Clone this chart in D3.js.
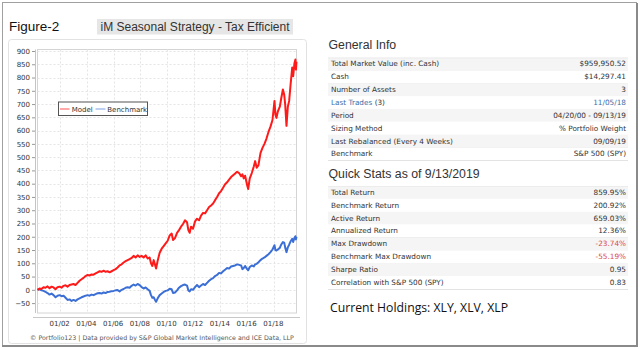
<!DOCTYPE html>
<html>
<head>
<meta charset="utf-8">
<script src="https://cdn.jsdelivr.net/npm/d3@7"></script>
<style>
  html, body { margin: 0; padding: 0; background: #fff; }
  svg { display: block; }
</style>
</head>
<body>
<svg id="chart" width="640" height="349"></svg>
<script>
// ---------------- DATA ----------------
const years = [
  2000.30, 2000.45, 2000.60, 2000.75, 2000.90, 2001.05, 2001.20, 2001.35, 2001.50, 2001.65,
  2001.80, 2001.95, 2002.10, 2002.25, 2002.40, 2002.55, 2002.70, 2002.85, 2003.00, 2003.15,
  2003.30, 2003.45, 2003.60, 2003.75, 2003.90, 2004.05, 2004.20, 2004.35, 2004.50, 2004.65,
  2004.80, 2004.95, 2005.10, 2005.25, 2005.40, 2005.55, 2005.70, 2005.85, 2006.00, 2006.15,
  2006.30, 2006.45, 2006.60, 2006.75, 2006.90, 2007.05, 2007.20, 2007.35, 2007.50, 2007.65,
  2007.80, 2007.95, 2008.10, 2008.25, 2008.40, 2008.55, 2008.70, 2008.80, 2008.90, 2009.00,
  2009.10, 2009.18, 2009.30, 2009.45, 2009.60, 2009.75, 2009.90, 2010.05, 2010.20, 2010.35,
  2010.45, 2010.60, 2010.75, 2010.90, 2011.05, 2011.20, 2011.35, 2011.50, 2011.60, 2011.70,
  2011.80, 2011.95, 2012.10, 2012.25, 2012.40, 2012.55, 2012.70, 2012.85, 2013.00, 2013.15,
  2013.30, 2013.45, 2013.60, 2013.75, 2013.90, 2014.05, 2014.20, 2014.35, 2014.50, 2014.65,
  2014.80, 2014.95, 2015.10, 2015.25, 2015.40, 2015.55, 2015.65, 2015.75, 2015.85, 2016.00,
  2016.08, 2016.20, 2016.35, 2016.50, 2016.60, 2016.72, 2016.85, 2017.00, 2017.15, 2017.30,
  2017.45, 2017.60, 2017.75, 2017.90, 2018.05, 2018.12, 2018.20, 2018.30, 2018.45, 2018.55,
  2018.68, 2018.78, 2018.85, 2018.95, 2019.05, 2019.15, 2019.25, 2019.38, 2019.45, 2019.55,
  2019.62, 2019.66, 2019.70
];
const modelValues = [
  0, 5, 3, 10, 8, 13, 6, 12, 9, 2,
  10, 12, 8, 15, 17, 12, 18, 20, 22, 18,
  26, 34, 40, 45, 52, 56, 54, 58, 57, 62,
  66, 70, 68, 72, 68, 70, 66, 70, 74, 78,
  84, 92, 96, 103, 108, 112, 116, 120, 128, 122,
  130, 124, 128, 122, 130, 118, 122, 100, 90, 112,
  95, 80, 110, 140, 155, 165, 175, 185, 205, 212,
  188, 195, 215, 225, 238, 248, 262, 255, 225, 215,
  238, 230, 258, 268, 262, 280, 290, 288, 300, 312,
  318, 325, 338, 350, 364, 372, 385, 398, 405, 415,
  425, 432, 438, 445, 440, 428, 435, 420, 430, 395,
  380, 420, 440, 465, 485, 460, 470, 515, 535, 550,
  570, 595, 615, 640, 712, 660, 648, 672, 690, 720,
  755, 735, 700, 618, 690, 712, 770, 838, 805, 855,
  868, 830, 860
];
const benchmarkValues = [
  0, 2, -2, -4, -8, -12, -18, -14, -20, -28,
  -22, -20, -24, -22, -30, -38, -36, -42, -38, -42,
  -36, -32, -28, -25, -22, -20, -22, -18, -20, -16,
  -13, -12, -14, -10, -12, -8, -7, -5, -4, -2,
  -1, -6, 0, 3, 8, 10, 8, 15, 20, 16,
  22, 18, 10, 5, 9, 2, -4, -20, -30, -28,
  -38, -45, -32, -20, -14, -8, -4, -2, 4, 2,
  -12, -10, -2, 8, 14, 18, 20, 16, -2, -6,
  2, 0, 10, 18, 10, 16, 22, 18, 26, 34,
  40, 44, 52, 56, 64, 62, 70, 76, 82, 80,
  88, 90, 92, 96, 94, 92, 78, 82, 90, 78,
  74, 86, 92, 88, 96, 98, 104, 112, 118, 122,
  128, 134, 142, 152, 168, 150, 148, 152, 158, 170,
  180, 178, 160, 142, 160, 170, 182, 192, 180, 196,
  202, 190, 200
];
const yTicks = [-50, 0, 50, 100, 150, 200, 250, 300, 350, 400, 450, 500, 550, 600, 650, 700, 750, 800, 850, 900];
const xTickYears = [2002, 2004, 2006, 2008, 2010, 2012, 2014, 2016, 2018];
const seriesNames = ["Model", "Benchmark"];

const generalLabels = ["Total Market Value (inc. Cash)", "Cash", "Number of Assets", "Last Trades", "Period",
  "Sizing Method", "Last Rebalanced (Every 4 Weeks)", "Benchmark"];
const generalValues = ["$959,950.52", "$14,297.41", "3", "11/05/18", "04/20/00 - 09/13/19",
  "% Portfolio Weight", "09/09/19", "S&P 500 (SPY)"];
const statsLabels = ["Total Return", "Benchmark Return", "Active Return", "Annualized Return", "Max Drawdown",
  "Benchmark Max Drawdown", "Sharpe Ratio", "Correlation with S&P 500 (SPY)"];
const statsValues = ["859.95%", "200.92%", "659.03%", "12.36%", "-23.74%", "-55.19%", "0.95", "0.83"];

// ---------------- DRAW ----------------
const svg = d3.select("#chart");
const FONT = "'DejaVu Sans', Verdana, sans-serif";
const ARIAL = "'Liberation Sans', Arial, sans-serif";

function yearToDate(y) {
  const yr = Math.floor(y);
  const start = Date.UTC(yr, 0, 1), end = Date.UTC(yr + 1, 0, 1);
  return new Date(start + (y - yr) * (end - start));
}

// outer frame
svg.append("rect").attr("x", 2.5).attr("y", 2.5).attr("width", 634).attr("height", 343)
  .attr("fill", "#fff").attr("stroke", "#a0a0a0").attr("stroke-width", 1);
svg.append("line").attr("x1", 637).attr("x2", 637).attr("y1", 3).attr("y2", 346)
  .attr("stroke", "#8a8a8a").attr("stroke-width", 2);
svg.append("line").attr("x1", 2).attr("x2", 638).attr("y1", 346).attr("y2", 346)
  .attr("stroke", "#8a8a8a").attr("stroke-width", 2);

// chart panel
svg.append("rect").attr("x", 8.5).attr("y", 39.5).attr("width", 298).attr("height", 304).attr("rx", 3)
  .attr("fill", "#fff").attr("stroke", "#e2e2e2");

// titles
svg.append("text").attr("x", 9).attr("y", 31).attr("font-family", ARIAL).attr("font-size", 13.5)
  .attr("fill", "#111").text("Figure-2");
svg.append("rect").attr("x", 97).attr("y", 19).attr("width", 196).attr("height", 15.5).attr("fill", "#e6e6e6");
svg.append("text").attr("x", 195).attr("y", 31).attr("text-anchor", "middle").attr("font-family", ARIAL)
  .attr("font-size", 12.5).attr("fill", "#333").attr("textLength", 189).attr("lengthAdjust", "spacingAndGlyphs")
  .text("iM Seasonal Strategy - Tax Efficient");

// scales
const plot = { left: 37.5, right: 296.5, top: 49.5, bottom: 313 };
const x = d3.scaleTime()
  .domain([yearToDate(years[0]), yearToDate(years[years.length - 1])])
  .range([plot.left, plot.right]);
const y = d3.scaleLinear().domain([-50, 900]).range([303.1, 51]);

// plot border
svg.append("rect").attr("x", plot.left).attr("y", plot.top).attr("width", plot.right - plot.left)
  .attr("height", plot.bottom - plot.top).attr("fill", "#fff").attr("stroke", "#d4d4d4");

// grid
svg.append("g").selectAll("line").data(yTicks).join("line")
  .attr("x1", plot.left).attr("x2", plot.right)
  .attr("y1", d => Math.round(y(d)) + 0.5).attr("y2", d => Math.round(y(d)) + 0.5)
  .attr("stroke", "#e4e4e4").attr("stroke-dasharray", "2,2");
svg.append("g").selectAll("line").data(xTickYears).join("line")
  .attr("x1", d => Math.round(x(yearToDate(d))) + 0.5).attr("x2", d => Math.round(x(yearToDate(d))) + 0.5)
  .attr("y1", plot.top).attr("y2", plot.bottom)
  .attr("stroke", "#e4e4e4").attr("stroke-dasharray", "2,2");

// y axis
const yAxis = d3.axisLeft(y).tickValues(yTicks).tickSize(3).tickPadding(2).tickFormat(d3.format("d"));
const gy = svg.append("g").attr("transform", "translate(35,0)").call(yAxis);
gy.select(".domain").attr("stroke", "#c4c4c4").attr("d", `M0.5,${plot.top}V${plot.bottom}`);
gy.selectAll(".tick line").attr("stroke", "#999");
gy.selectAll(".tick text").attr("font-family", FONT).attr("font-size", 7).attr("fill", "#333");

// x axis
const xAxis = d3.axisBottom(x).tickValues(xTickYears.map(yearToDate)).tickSize(0).tickPadding(4)
  .tickFormat(d3.timeFormat("%m/%y"));
const gx = svg.append("g").attr("transform", "translate(-1,317.5)").call(xAxis);
gx.select(".domain").attr("stroke", "#c8c8c8").attr("d", "M34,0H301");
gx.selectAll(".tick text").attr("font-family", FONT).attr("font-size", 7).attr("fill", "#333");

// lines
const modelPts = years.map((yr, i) => [yearToDate(yr), modelValues[i]]);
const benchPts = years.map((yr, i) => [yearToDate(yr), benchmarkValues[i]]);
const line = d3.line().x(d => x(d[0])).y(d => y(d[1]));
svg.append("path").datum(benchPts).attr("d", line).attr("fill", "none")
  .attr("stroke", "#3b6fd6").attr("stroke-width", 2).attr("stroke-linejoin", "round");
svg.append("path").datum(modelPts).attr("d", line).attr("fill", "none")
  .attr("stroke", "#ff1a1a").attr("stroke-width", 2).attr("stroke-linejoin", "round");

// legend
const lg = svg.append("g");
lg.append("rect").attr("x", 58.5).attr("y", 102).attr("width", 89).attr("height", 13.5)
  .attr("fill", "#fff").attr("stroke", "#555");
lg.append("line").attr("x1", 60).attr("x2", 69.5).attr("y1", 109).attr("y2", 109).attr("stroke", "#ff8c8c").attr("stroke-width", 1.5);
lg.append("text").attr("x", 71.7).attr("y", 111.5).attr("font-family", FONT).attr("font-size", 7)
  .attr("fill", "#333").text(seriesNames[0]);
lg.append("line").attr("x1", 95.5).attr("x2", 105.5).attr("y1", 109).attr("y2", 109).attr("stroke", "#a8c0ec").attr("stroke-width", 1.5);
lg.append("text").attr("x", 107.3).attr("y", 111.5).attr("font-family", FONT).attr("font-size", 7)
  .attr("fill", "#333").text(seriesNames[1]);

// copyright
svg.append("text").attr("x", 162).attr("y", 340).attr("text-anchor", "middle").attr("font-family", FONT)
  .attr("font-size", 6.3).attr("fill", "#555")
  .text("© Portfolio123 | Data provided by S&P Global Market Intelligence and ICE Data, LLP");

// right panel tables
function drawTable(title, titleY, top, labels, values, colorFn) {
  svg.append("text").attr("x", 328.5).attr("y", titleY).attr("font-family", ARIAL).attr("font-size", 12.3)
    .attr("fill", "#333").text(title);
  const rowH = 12.85;
  const g = svg.append("g");
  labels.forEach((lab, i) => {
    const ry = top + i * rowH;
    g.append("rect").attr("x", 328).attr("y", ry).attr("width", 300).attr("height", rowH)
      .attr("fill", i % 2 === 0 ? "#f5f5f5" : "#fff");
    g.append("line").attr("x1", 328).attr("x2", 628).attr("y1", Math.round(ry + rowH) + 0.5).attr("y2", Math.round(ry + rowH) + 0.5)
      .attr("stroke", "#e3e3e3");
    const t = g.append("text").attr("x", 331).attr("y", ry + 8.9).attr("font-family", FONT).attr("font-size", 7.3)
      .attr("fill", "#333");
    if (lab === "Last Trades") {
      t.append("tspan").attr("fill", "#3b6ea8").text("Last Trades");
      t.append("tspan").text(" (3)");
    } else {
      t.text(lab);
    }
    g.append("text").attr("x", 626).attr("y", ry + 8.9).attr("text-anchor", "end").attr("font-family", FONT)
      .attr("font-size", 7.3).attr("fill", colorFn(i, values[i])).text(values[i]);
  });
  g.append("line").attr("x1", 328).attr("x2", 628).attr("y1", top + 0.5).attr("y2", top + 0.5).attr("stroke", "#ececec");
}
drawTable("General Info", 48.5, 57.5, generalLabels, generalValues,
  (i, v) => generalLabels[i] === "Last Trades" ? "#3b6ea8" : "#333");
drawTable("Quick Stats as of 9/13/2019", 177.5, 186, statsLabels, statsValues,
  (i, v) => v.startsWith("-") ? "#e04848" : "#333");

svg.append("text").attr("x", 330).attr("y", 312).attr("font-family", "'Open Sans', sans-serif").attr("font-size", 13.5)
  .attr("fill", "#111").attr("textLength", 178).attr("lengthAdjust", "spacingAndGlyphs")
  .text("Current Holdings: XLY, XLV, XLP");
</script>
</body>
</html>
